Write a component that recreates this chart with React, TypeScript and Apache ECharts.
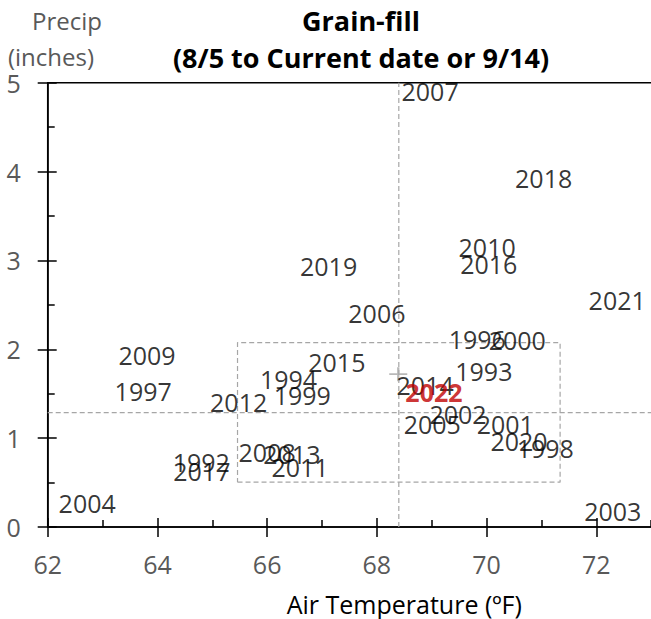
import React, { useEffect, useRef } from "react";
import * as echarts from "echarts";

const FONT = "'Open Sans', sans-serif";

// Year labels and their (air temperature °F, precip inches) positions
const years = [
  "2007", "2018", "2010", "2016", "2021", "2006", "2019", "1996", "2000", "1993",
  "2015", "1994", "1999", "2012", "2014", "2022", "2002", "2005", "2001", "2020",
  "1998", "2009", "1997", "1992", "2017", "2008", "2013", "2011", "2004", "2003",
];
const airTempF = [
  68.44, 70.51, 69.48, 69.51, 71.85, 67.47, 66.59, 69.3, 70.03, 69.42,
  66.74, 65.86, 66.11, 64.95, 68.35, 68.51, 68.95, 68.48, 69.81, 70.06,
  70.54, 63.28, 63.21, 64.27, 64.28, 65.47, 65.92, 66.07, 62.19, 71.77,
];
const precipIn = [
  4.91, 3.93, 3.15, 2.96, 2.56, 2.41, 2.94, 2.12, 2.11, 1.76,
  1.86, 1.66, 1.48, 1.41, 1.6, 1.52, 1.27, 1.16, 1.16, 0.97,
  0.89, 1.94, 1.53, 0.73, 0.63, 0.84, 0.82, 0.68, 0.27, 0.18,
];
const highlightYear = "2022";

// Reference lines (means) and the dashed box (mean ± 1 SD)
const meanTemp = 68.4;
const meanPrecip = 1.287;
const boxTemp = [65.46, 71.34];
const boxPrecip = [0.505, 2.075];
const crossMarker = [68.39, 1.72];

// Axis ranges
const xRange = [62, 75];
const yRange = [0, 5];
const xStep = 2;
const yStep = 1;
const xLastLabel = 72;

export default function App() {
  const ref = useRef<HTMLDivElement>(null);

  useEffect(() => {
    document.body.style.margin = "0";
    if (!ref.current) return;
    const chart = echarts.init(ref.current, undefined, { renderer: "svg" });

    const scatterData = years.map((y, i) => {
      const d: any = { name: y, value: [airTempF[i], precipIn[i]] };
      if (y === highlightYear) {
        d.label = { color: "#c00000", fontWeight: "bold" };
      }
      return d;
    });

    const dashed = { color: "#a6a6a6", width: 1.2, type: [5, 3] };
    const grey = "#595959";

    const baseX = {
      type: "value",
      min: xRange[0],
      max: xRange[1],
      interval: xStep,
      splitLine: { show: false },
    };
    const baseY = {
      type: "value",
      min: yRange[0],
      max: yRange[1],
      interval: yStep,
      splitLine: { show: false },
    };

    chart.setOption({
      animation: false,
      textStyle: { fontFamily: FONT },
      grid: {
        left: 47.7,
        top: 82.7,
        bottom: 92,
        right: -109.9,
        show: true,
        borderColor: "#000",
        borderWidth: 1.5,
        outerBoundsMode: "none",
        containLabel: false,
      },
      graphic: [
        {
          type: "text",
          x: 361,
          y: 20,
          style: {
            text: "Grain-fill",
            fill: "#000",
            fontSize: 27,
            fontWeight: "bold",
            fontFamily: FONT,
            textAlign: "center",
            textVerticalAlign: "middle",
          },
        },
        {
          type: "text",
          x: 361,
          y: 57,
          style: {
            text: "(8/5 to Current date or 9/14)",
            fill: "#000",
            fontSize: 27,
            fontWeight: "bold",
            fontFamily: FONT,
            textAlign: "center",
            textVerticalAlign: "middle",
          },
        },
        {
          type: "text",
          x: 67,
          y: 20,
          style: {
            text: "Precip",
            fill: grey,
            fontSize: 24,
            fontFamily: FONT,
            textAlign: "center",
            textVerticalAlign: "middle",
          },
        },
        {
          type: "text",
          x: 51,
          y: 56,
          style: {
            text: "(inches)",
            fill: grey,
            fontSize: 24,
            fontFamily: FONT,
            textAlign: "center",
            textVerticalAlign: "middle",
          },
        },
      ],
      xAxis: [
        {
          ...baseX,
          position: "bottom",
          axisLine: { show: true, lineStyle: { color: "#000", width: 1.5 } },
          axisTick: { show: true, inside: true, length: 9, lineStyle: { color: "#000", width: 1.5 } },
          minorTick: { show: true, splitNumber: 2, length: 7, lineStyle: { color: "#000", width: 1.5 } },
          axisLabel: { show: false },
        },
        {
          ...baseX,
          position: "bottom",
          axisLine: { show: false },
          axisTick: { show: true, inside: false, length: 10, lineStyle: { color: "#000", width: 1.5 } },
          minorTick: { show: false },
          axisLabel: {
            show: true,
            color: grey,
            fontSize: 25,
            fontFamily: FONT,
            margin: 24,
            formatter: (v: number) => (v <= xLastLabel ? String(v) : ""),
          },
          name: "Air Temperature (ºF)",
          nameLocation: "middle",
          nameGap: 64,
          nameTextStyle: { color: "#000", fontSize: 25, fontFamily: FONT },
        },
      ],
      yAxis: [
        {
          ...baseY,
          position: "left",
          axisLine: { show: true, lineStyle: { color: "#000", width: 1.5 } },
          axisTick: { show: true, inside: true, length: 9, lineStyle: { color: "#000", width: 1.5 } },
          minorTick: { show: true, splitNumber: 2, length: 7, lineStyle: { color: "#000", width: 1.5 } },
          axisLabel: { show: false },
        },
        {
          ...baseY,
          position: "left",
          axisLine: { show: false },
          axisTick: { show: true, inside: false, length: 10, lineStyle: { color: "#000", width: 1.5 } },
          minorTick: { show: false },
          axisLabel: { show: true, color: grey, fontSize: 25, fontFamily: FONT, margin: 27 },
        },
      ],
      series: [
        {
          type: "line",
          silent: true,
          symbol: "none",
          lineStyle: dashed,
          data: [
            [meanTemp, yRange[0]],
            [meanTemp, yRange[1]],
          ],
          z: 1,
        },
        {
          type: "line",
          silent: true,
          symbol: "none",
          lineStyle: dashed,
          data: [
            [xRange[0], meanPrecip],
            [xRange[1], meanPrecip],
          ],
          z: 1,
        },
        {
          type: "line",
          silent: true,
          symbol: "none",
          lineStyle: dashed,
          data: [
            [boxTemp[0], boxPrecip[0]],
            [boxTemp[1], boxPrecip[0]],
            [boxTemp[1], boxPrecip[1]],
            [boxTemp[0], boxPrecip[1]],
            [boxTemp[0], boxPrecip[0]],
          ],
          z: 1,
        },
        {
          type: "scatter",
          silent: true,
          symbol: "path://M0,5L10,5M5,0L5,10",
          symbolSize: [18, 14],
          itemStyle: { color: "none", borderColor: "#a6a6a6", borderWidth: 2 },
          data: [crossMarker],
          z: 2,
        },
        {
          type: "scatter",
          silent: true,
          symbolSize: 1,
          itemStyle: { color: "rgba(0,0,0,0)" },
          label: {
            show: true,
            position: "right",
            distance: 0,
            formatter: "{b}",
            color: "#000",
            fontSize: 25,
            fontFamily: FONT,
          },
          data: scatterData,
          z: 3,
        },
      ],
    });

    return () => chart.dispose();
  }, []);

  return <div ref={ref} style={{ width: 651, height: 619 }} />;
}
